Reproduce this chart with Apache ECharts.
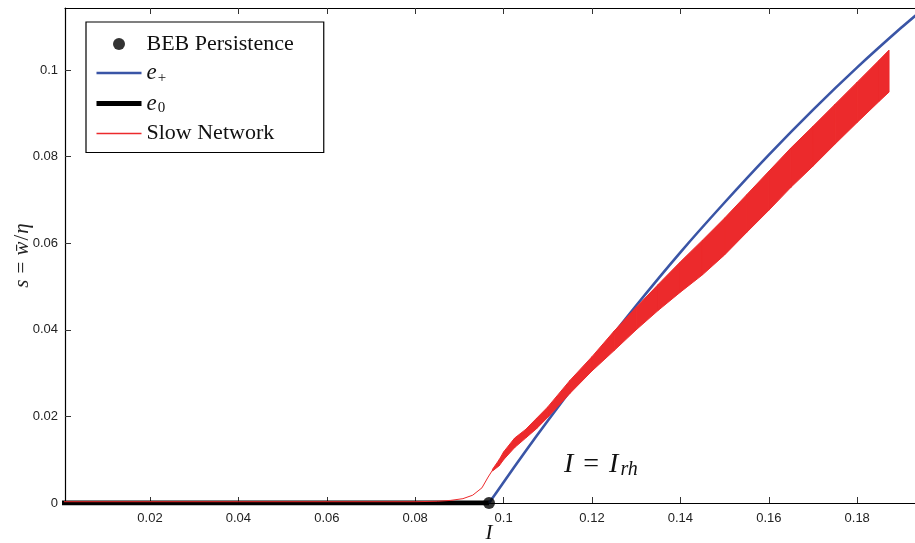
<!DOCTYPE html>
<html><head><meta charset="utf-8">
<script src="https://cdn.jsdelivr.net/npm/echarts@6/dist/echarts.min.js"></script>
<style>html,body{margin:0;padding:0;background:#fff}#c{width:915px;height:543px}</style>
</head><body><div id="c"></div>
<script>
// ---- data ----
const xTicks = [0.02, 0.04, 0.06, 0.08, 0.1, 0.12, 0.14, 0.16, 0.18];
const yTicks = [0, 0.02, 0.04, 0.06, 0.08, 0.1];

const e0X = [0, 0.0967];
const e0Y = [0, 0];

const ePlusX = [0.0967, 0.100, 0.105, 0.110, 0.120, 0.130, 0.140, 0.150, 0.160, 0.170, 0.180, 0.190, 0.196];
const ePlusY = [0, 0.0048, 0.0120, 0.0190, 0.0326, 0.0456, 0.0579, 0.0694, 0.0804, 0.0908, 0.1006, 0.1098, 0.1150];

const slowEarlyX = [0.0, 0.040, 0.080, 0.085, 0.088, 0.0908, 0.093, 0.0951, 0.0965, 0.0975];
const slowEarlyY = [0.0003, 0.0003, 0.0003, 0.0004, 0.0006, 0.0010, 0.0018, 0.0035, 0.0060, 0.0076];

const bandX  = [0.0975, 0.0990, 0.1000, 0.1025, 0.1050, 0.1075, 0.1100, 0.1150, 0.1200, 0.1250, 0.1300, 0.1350, 0.1400, 0.1450, 0.1500, 0.1550, 0.1600, 0.1650, 0.1700, 0.1750, 0.1800, 0.1850, 0.1872];
const bandHi = [0.0078, 0.0100, 0.0118, 0.0150, 0.0170, 0.0196, 0.0222, 0.0283, 0.0338, 0.0397, 0.0452, 0.0505, 0.0557, 0.0607, 0.0658, 0.0712, 0.0766, 0.0820, 0.0870, 0.0921, 0.0972, 0.1023, 0.1046];
const bandLo = [0.0074, 0.0086, 0.0100, 0.0128, 0.0150, 0.0172, 0.0198, 0.0253, 0.0305, 0.0352, 0.0400, 0.0445, 0.0487, 0.0527, 0.0573, 0.0625, 0.0676, 0.0729, 0.0778, 0.0829, 0.0879, 0.0928, 0.0949];

const bebX = [0.0967];
const bebY = [0];

// ---- chart ----
const zip = (xs, ys) => xs.map((x, i) => [x, ys[i]]);
const serif = '"Liberation Serif", "DejaVu Serif", serif';
const sans = '"Liberation Sans", Arial, sans-serif';
const X_MIN = 0.00077, X_MAX = 0.19534, Y_MAX = 0.11432;
const RED = '#ec2a2c', BLUE = '#3a55a6';

const chart = echarts.init(document.getElementById('c'), null, {renderer: 'canvas'});
const fmt = v => String(+Number(v).toFixed(2));
const legendNames = {
  'BEB Persistence': 'BEB Persistence',
  'e+': '{e|e}{sub|+}',
  'e0': '{e|e}{sub|0}',
  'Slow Network': 'Slow Network'
};

chart.setOption({
  animation: false,
  backgroundColor: '#fff',
  grid: {left: 65, top: 8, width: 860, height: 495, containLabel: false, outerBoundsMode: 'none'},
  xAxis: [{
    type: 'value', min: X_MIN, max: X_MAX, position: 'bottom',
    axisLine: {onZero: false, lineStyle: {color: '#000', width: 1.2}},
    axisTick: {inside: true, length: 6, customValues: xTicks, lineStyle: {color: '#333'}},
    axisLabel: {customValues: xTicks, formatter: fmt, color: '#222', fontSize: 13, fontFamily: sans, margin: 9},
    splitLine: {show: false},
    name: '{i|I}', nameLocation: 'middle', nameGap: 30, nameMoveOverlap: false,
    nameTextStyle: {verticalAlign: 'middle', padding: [0, 12, 0, 0],
      rich: {i: {fontFamily: serif, fontStyle: 'italic', fontSize: 21, color: '#111'}}}
  }, {
    type: 'value', min: X_MIN, max: X_MAX, position: 'top',
    axisLine: {onZero: false, lineStyle: {color: '#000', width: 1.2}},
    axisTick: {inside: true, length: 6, customValues: xTicks, lineStyle: {color: '#333'}},
    axisLabel: {show: false}, splitLine: {show: false}
  }],
  yAxis: [{
    type: 'value', min: 0, max: Y_MAX,
    axisLine: {onZero: false, lineStyle: {color: '#000', width: 1.2}},
    axisTick: {inside: true, length: 6, customValues: yTicks, lineStyle: {color: '#333'}},
    axisLabel: {customValues: yTicks, formatter: fmt, color: '#222', fontSize: 13, fontFamily: sans, margin: 7},
    splitLine: {show: false},
    name: '{i|s}{r|=}{i|w̄}{s|/}{i|η}', nameLocation: 'middle', nameGap: 43, nameRotate: 90, nameMoveOverlap: false,
    nameTextStyle: {fontFamily: serif, fontSize: 21, color: '#222', verticalAlign: 'middle',
      rich: {i: {fontFamily: serif, fontStyle: 'italic', fontSize: 21, color: '#222'},
             r: {fontFamily: serif, fontSize: 21, color: '#222', padding: [0, 6, 0, 6]},
             s: {fontFamily: serif, fontSize: 21, color: '#222', padding: [0, 1, 0, 1]}}}
  }],
  legend: {
    orient: 'vertical', left: 86, top: 22,
    padding: [11, 30, 8, 8], itemGap: 6.5, itemWidth: 45, itemHeight: 12,
    backgroundColor: '#fff', borderColor: '#000', borderWidth: 1.2, borderRadius: 0,
    selectedMode: false,
    data: [
      {name: 'BEB Persistence', icon: 'circle'},
      {name: 'e+', itemStyle: {opacity: 0}, lineStyle: {width: 2.6, color: BLUE}},
      {name: 'e0', itemStyle: {opacity: 0}, lineStyle: {width: 5, color: '#000'}},
      {name: 'Slow Network', itemStyle: {opacity: 0}, lineStyle: {width: 1.3, color: RED}}
    ],
    formatter: n => legendNames[n],
    textStyle: {fontFamily: serif, fontSize: 22, color: '#111',
      rich: {
        e: {fontFamily: serif, fontStyle: 'italic', fontSize: 23, color: '#111'},
        sub: {fontFamily: serif, fontSize: 15, color: '#111', padding: [10, 0, 0, 1]}
      }}
  },
  graphic: [{
    type: 'text', left: 564, top: 451, z: 100,
    style: {
      text: '{i|I}{r|=}{i|I}{sub|rh}',
      font: '27px ' + serif, fill: '#111',
      rich: {
        i: {fontFamily: serif, fontStyle: 'italic', fontSize: 28, fill: '#111'},
        r: {fontFamily: serif, fontSize: 28, fill: '#111', padding: [0, 10, 0, 10]},
        sub: {fontFamily: serif, fontStyle: 'italic', fontSize: 20, fill: '#111', padding: [10, 0, 0, 2]}
      }
    }
  }],
  series: [
    {name: 'e0', type: 'line', data: zip(e0X, e0Y), showSymbol: false, symbol: 'none',
     lineStyle: {color: '#000', width: 5}, itemStyle: {color: '#000'}, z: 2},
    {name: 'e+', type: 'line', data: zip(ePlusX, ePlusY), showSymbol: false, symbol: 'none', smooth: 0.2,
     lineStyle: {color: BLUE, width: 2.6}, itemStyle: {color: BLUE}, z: 3},
    {name: 'Slow Network', type: 'line', data: zip(slowEarlyX, slowEarlyY), showSymbol: false, symbol: 'none',
     lineStyle: {color: RED, width: 1}, itemStyle: {color: RED}, z: 4},
    {name: 'Slow Network band', type: 'custom', z: 4,
     data: bandX.map((x, i) => [x, bandLo[i], bandHi[i]]),
     encode: {x: 0, y: [1, 2]},
     renderItem: (params, api) => {
       const i = params.dataIndex;
       if (i >= bandX.length - 1) return null;
       const pts = [
         api.coord([api.value(0), api.value(1)]),
         api.coord([bandX[i + 1], bandLo[i + 1]]),
         api.coord([bandX[i + 1], bandHi[i + 1]]),
         api.coord([api.value(0), api.value(2)])
       ];
       return {type: 'polygon', shape: {points: pts}, style: {fill: RED, stroke: RED, lineWidth: 1}};
     }},
    {name: 'BEB Persistence', type: 'scatter', data: zip(bebX, bebY), symbol: 'circle', symbolSize: 12,
     itemStyle: {color: '#000'}, z: 6, clip: false}
  ]
});
</script></body></html>
